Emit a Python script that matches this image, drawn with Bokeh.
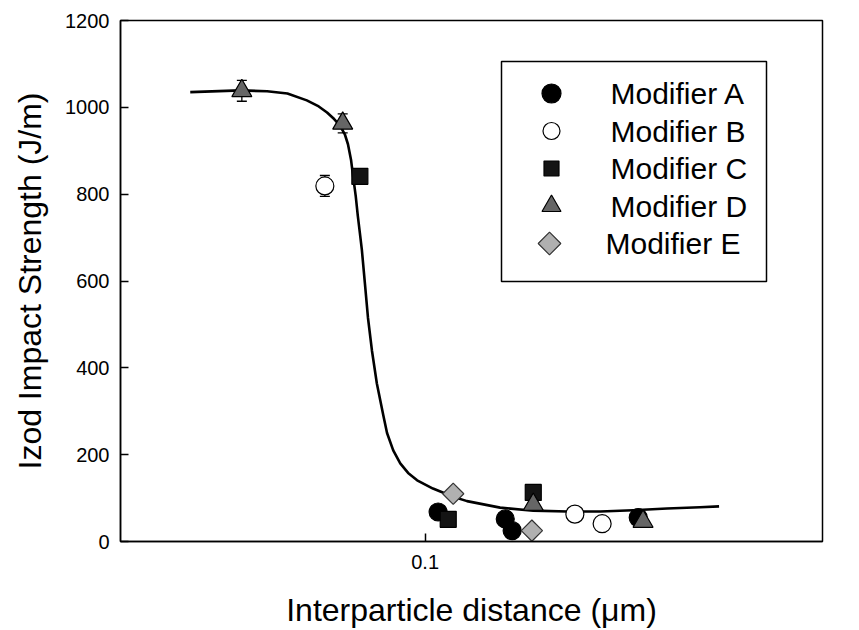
from bokeh.plotting import figure
from bokeh.models import Range1d, FixedTicker, Whisker, TeeHead, ColumnDataSource, LinearScale
from bokeh.core.properties import value
from bokeh.embed import file_html
from bokeh.resources import INLINE

# Interparticle distance (um) and Izod impact strength (J/m) per modifier
a_x = [0.1030, 0.1200, 0.1219, 0.1624]
a_y = [68, 52, 25, 55]
b_x = [0.0796, 0.1406, 0.1496]
b_y = [819, 63, 41]
c_x = [0.0862, 0.1054, 0.1279]
c_y = [841, 51, 113]
d_x = [0.0659, 0.0829, 0.1279, 0.1642]
d_y = [1038, 963, 85, 46]
e_x = [0.1066, 0.1275]
e_y = [110, 25]

# Standard deviations shown as error bars
err_x = [0.0659, 0.0829, 0.0796]
err_y = [1038, 963, 819]
err_sd = [24, 22, 24]

# Fitted trend curve
curve_x = [0.0586, 0.0657, 0.0698, 0.0731, 0.0764, 0.0785, 0.0800, 0.0813,
           0.0824, 0.0833, 0.0839, 0.0845, 0.0849, 0.0854, 0.0858, 0.0862,
           0.0866, 0.0872, 0.0878, 0.0886, 0.0896, 0.0909, 0.0917, 0.0930,
           0.0945, 0.0962, 0.0982, 0.1018, 0.1066, 0.1100, 0.1186,
           0.1279, 0.1381, 0.1490, 0.1605, 0.1734, 0.1869, 0.1952]
curve_y = [1035, 1039, 1037, 1032, 1016, 1002, 988, 973,
           958, 938, 915, 878, 840, 795, 750, 711,
           671, 594, 516, 440, 364, 292, 250, 210,
           180, 158, 141, 122, 103, 93, 78,
           71, 69, 69, 72, 76, 79, 81]

y_ticks = [0, 200, 400, 600, 800, 1000, 1200]
x_ticks = [0.1]
legend_labels = ["Modifier A", "Modifier B", "Modifier C", "Modifier D", "Modifier E"]

FONT = "Liberation Sans"
FRAME_W, FRAME_H = 702, 521

p = figure(width=859, height=630, x_axis_type="log",
           x_range=Range1d(0.05, 0.247), y_range=Range1d(0, 1200),
           output_backend="svg", toolbar_location=None,
           min_border_left=120, min_border_right=37,
           min_border_top=20, min_border_bottom=89,
           x_axis_label="Interparticle distance (\u03bcm)",
           y_axis_label="Izod Impact Strength (J/m)")
p.grid.visible = False
p.background_fill_color = "white"
p.border_fill_color = "white"
p.outline_line_color = "black"
p.outline_line_width = 1.5

for ax in (p.xaxis[0], p.yaxis[0]):
    ax.axis_line_width = 1.5
    ax.axis_line_color = "black"
    ax.major_tick_in = 8
    ax.major_tick_out = 0
    ax.major_tick_line_width = 1.5
    ax.minor_tick_in = 0
    ax.minor_tick_out = 0
    ax.major_label_text_font = FONT
    ax.major_label_text_font_size = "20px"
    ax.major_label_text_color = "black"
    ax.axis_label_text_font = FONT
    ax.axis_label_text_font_size = "32px"
    ax.axis_label_text_font_style = "normal"
    ax.axis_label_text_color = "black"

p.yaxis.ticker = FixedTicker(ticks=y_ticks)
p.yaxis.major_label_standoff = 11
p.yaxis.axis_label_standoff = 14
p.xaxis.ticker = FixedTicker(ticks=x_ticks)
p.xaxis.major_label_overrides = {0.1: "0.1"}
p.xaxis.major_label_standoff = 13
p.xaxis.axis_label_standoff = 20

# error bars
err_src = ColumnDataSource(dict(
    x=err_x,
    lower=[y - s for y, s in zip(err_y, err_sd)],
    upper=[y + s for y, s in zip(err_y, err_sd)],
))
wh = Whisker(base="x", lower="lower", upper="upper", source=err_src,
             dimension="height", line_width=1.3, line_color="black",
             upper_head=TeeHead(size=10, line_width=1.3),
             lower_head=TeeHead(size=10, line_width=1.3),
             level="underlay")
p.add_layout(wh)

# trend curve
p.line(curve_x, curve_y, line_color="black", line_width=2.6, line_join="round")

# data markers
STY = {
    "A": dict(marker="circle", size=18, fill_color="black", line_color="black", angle=0.0),
    "B": dict(marker="circle", size=18, fill_color="white", line_color="black", angle=0.0),
    "C": dict(marker="square", size=16, fill_color="#141414", line_color="black", angle=0.0),
    "D": dict(marker="triangle", size=20, fill_color="#666666", line_color="black", angle=0.0),
    "E": dict(marker="square", size=15, fill_color="#b0b0b0", line_color="#333333", angle=0.785398),
}
series = [("A", a_x, a_y), ("B", b_x, b_y), ("C", c_x, c_y), ("D", d_x, d_y), ("E", e_x, e_y)]
for key, xs, ys in series:
    s = STY[key]
    p.scatter(xs, ys, marker=s["marker"], size=s["size"], fill_color=s["fill_color"],
              line_color=s["line_color"], line_width=1.2, angle=s["angle"])

# legend drawn in frame pixel space (linear scales)
p.extra_x_ranges = {"px": Range1d(0, FRAME_W)}
p.extra_x_scales = {"px": LinearScale()}
p.extra_y_ranges = {"py": Range1d(0, FRAME_H)}
p.extra_y_scales = {"py": LinearScale()}
box_l, box_r, box_t, box_b = 381, 646, 480, 260
p.quad(left=[box_l], right=[box_r], top=[box_t], bottom=[box_b],
       fill_color="white", line_color="black", line_width=1.5,
       x_range_name="px", y_range_name="py")
row_top, row_step = 448, 37.5
mark_x, text_x = 431, 490
leg_sizes = {"A": 19, "B": 17, "C": 15, "D": 19, "E": 16}
for i, (key, _, _) in enumerate(series):
    s = STY[key]
    yy = row_top - i * row_step
    dx = -2 if key == "E" else 0
    p.scatter([mark_x + dx], [yy], marker=s["marker"], size=leg_sizes[key],
              fill_color=s["fill_color"], line_color=s["line_color"], line_width=1.2,
              angle=s["angle"], x_range_name="px", y_range_name="py")
    p.text([text_x - (5 if key == "E" else 0)], [yy], text=[legend_labels[i]],
           text_font=value(FONT), text_font_size="30px", text_color="black",
           text_baseline="middle", text_align="left",
           x_range_name="px", y_range_name="py")

open("out.html", "w").write(file_html(p, INLINE))
